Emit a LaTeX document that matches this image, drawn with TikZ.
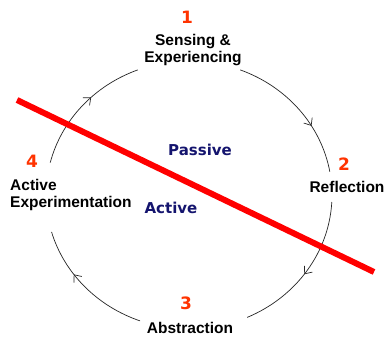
\documentclass[tikz,border=0pt]{standalone}
\usepackage{fontspec}
\setmainfont{Liberation Sans}
\newfontfamily\numfont{DejaVu Sans}
\usetikzlibrary{arrows.meta,decorations.markings}

\definecolor{stepred}{RGB}{255,51,0}
\definecolor{modeblue}{RGB}{20,20,110}

\begin{document}
\begin{tikzpicture}[
		x=1pt, y=1pt,
		stage/.style={font=\fontsize{15.5}{17}\selectfont\bfseries, inner sep=0pt},
		stagenum/.style={font=\fontsize{17}{17}\numfont\bfseries, text=stepred, inner sep=0pt},
		mode/.style={font=\fontsize{15}{15}\numfont\bfseries, text=modeblue, inner sep=0pt},
		loopline/.style={draw=black!85, line width=0.7pt, postaction={decorate},
			decoration={markings, mark=at position #1 with {\arrow[line width=0.7pt]{Straight Barb[length=6pt,width=10pt]}}}},
		divider/.style={draw=red, line width=6pt}
	]
	\useasboundingbox[fill=white] (0,0) rectangle (386,339);

	% the four stages
	\node[stagenum] (n1) at (187,322) {1};
	\node[stage, align=center] (sense) at (193,289) {Sensing \&\\Experiencing};
	\node[stagenum] (n2) at (344,175) {2};
	\node[stage] (refl) at (347,152) {Reflection};
	\node[stagenum] (n3) at (186,36) {3};
	\node[stage] (abst) at (190,11) {Abstraction};
	\node[stagenum] (n4) at (32,178) {4};
	\node[stage, align=left, anchor=west] (exper) at (10,144) {Active\\Experimentation};

	% passive / active halves
	\node[mode] (passive) at (200,189) {Passive};
	\node[mode] (active) at (171,131) {Active};

	% the cycle, an ellipse broken at each stage
	\coordinate (c) at (189,144);
	\coordinate (s1) at ([shift={(69:143pt and 134pt)}]c);
	\coordinate (s2) at ([shift={(-3:143pt and 134pt)}]c);
	\coordinate (s3) at ([shift={(250:143pt and 134pt)}]c);
	\coordinate (s4) at ([shift={(166:143pt and 134pt)}]c);
	\draw[loopline=0.65] (s1) arc[start angle=69, end angle=10, x radius=143pt, y radius=134pt];
	\draw[loopline=0.52] (s2) arc[start angle=-3, end angle=-66, x radius=143pt, y radius=134pt];
	\draw[loopline=0.63] (s3) arc[start angle=250, end angle=196, x radius=143pt, y radius=134pt];
	\draw[loopline=0.59] (s4) arc[start angle=166, end angle=111, x radius=143pt, y radius=134pt];

	% dividing line
	\coordinate (d1) at (17,239);
	\coordinate (d2) at (374,67);
	\draw[divider] (d1) -- (d2);
\end{tikzpicture}
\end{document}
